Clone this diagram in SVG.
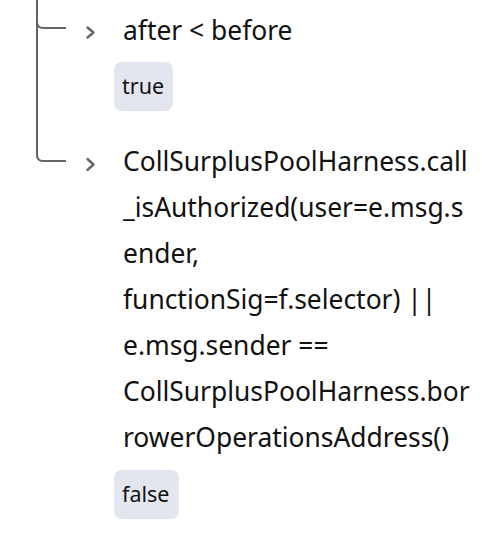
<svg xmlns="http://www.w3.org/2000/svg" width="498" height="542" viewBox="0 0 498 542">
<style>
.ln{fill:none;stroke:#666;stroke-width:2;}
.chev{fill:none;stroke:#666;stroke-width:2.4;stroke-linecap:round;stroke-linejoin:round;}
.t{font-family:"Noto Sans","Open Sans","Liberation Sans",sans-serif;font-size:26.4px;font-weight:400;fill:#111;}
.b{fill:#e3e5ef;}
.bt{font-family:"Noto Sans","Open Sans","Liberation Sans",sans-serif;font-size:21.5px;fill:#111;}
</style>
<rect width="498" height="542" fill="#fff"/>
<g id="connectors">
<path class="ln" d="M37,0 V155 Q37,161 43,161 H66"/>
<path class="ln" d="M37,22 Q37,28 43,28 H66"/>
</g>
<g id="node-after">
<path class="chev" d="M87.5,27.5 L93.5,32.5 L87.5,37.5"/>
<text class="t" x="123" y="40">after &lt; before</text>
<rect class="b" x="114" y="62" width="59" height="49" rx="8"/>
<text class="bt" x="122" y="94">true</text>
</g>
<g id="node-auth">
<path class="chev" d="M87.5,159 L93.5,164.5 L87.5,170"/>
<text class="t" x="123" y="171">CollSurplusPoolHarness.call</text>
<text class="t" x="123" y="217">_isAuthorized(user=e.msg.s</text>
<text class="t" x="123" y="263">ender,</text>
<text class="t" x="123" y="309">functionSig=f.selector) ||</text>
<text class="t" x="123" y="355">e.msg.sender ==</text>
<text class="t" x="123" y="401">CollSurplusPoolHarness.bor</text>
<text class="t" x="123" y="447">rowerOperationsAddress()</text>
<rect class="b" x="114" y="470" width="65" height="49" rx="8"/>
<text class="bt" x="122" y="502">false</text>
</g>
</svg>
